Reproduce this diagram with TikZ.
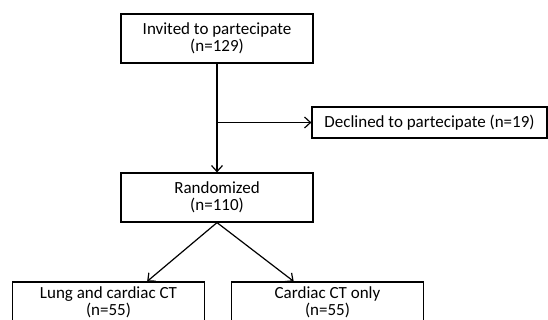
\documentclass[tikz,border=0pt]{standalone}
\usepackage{fontspec}
\setmainfont{Carlito}
\usepackage{tikz}
\usetikzlibrary{positioning, arrows.meta, calc}

\begin{document}
\begin{tikzpicture}[x=1pt, y=-1pt,
    box/.style={draw, line width=1.2pt, align=center, inner sep=0pt,
        minimum width=192pt, minimum height=49pt,
        font=\fontsize{17}{17.4}\selectfont},
    sidebox/.style={box, minimum width=235pt, minimum height=31pt},
    lowbox/.style={box, minimum height=40pt},
    flow/.style={line width=1.2pt, -{Straight Barb[length=6pt, width=11pt, line width=1.2pt]}}]

            % page
            \clip (0,0) rectangle (548,320);

            % boxes
            \node[box] (invited) at (217, 38.5) {Invited to partecipate\\(n=129)};
            \node[sidebox] (declined) at (429.5, 122.5) {Declined to partecipate (n=19)};
            \node[box] (random) at (217, 197.5) {Randomized\\(n=110)};
            \node[lowbox] (lungct) at (108.5, 302) {Lung and cardiac CT\\(n=55)};
            \node[lowbox] (cardct) at (327.5, 302) {Cardiac CT only\\(n=55)};

            % connectors
            \coordinate (split) at (invited.south |- declined.west);
            \draw[flow] (invited.south) -- (random.north);
            \draw[flow] (split) -- (declined.west);
            \draw[flow] (random.south) -- ($(lungct.north west)!0.70!(lungct.north east)$);
            \draw[flow] (random.south) -- ($(cardct.north west)!0.325!(cardct.north east)$);
        \end{tikzpicture}
\end{document}
